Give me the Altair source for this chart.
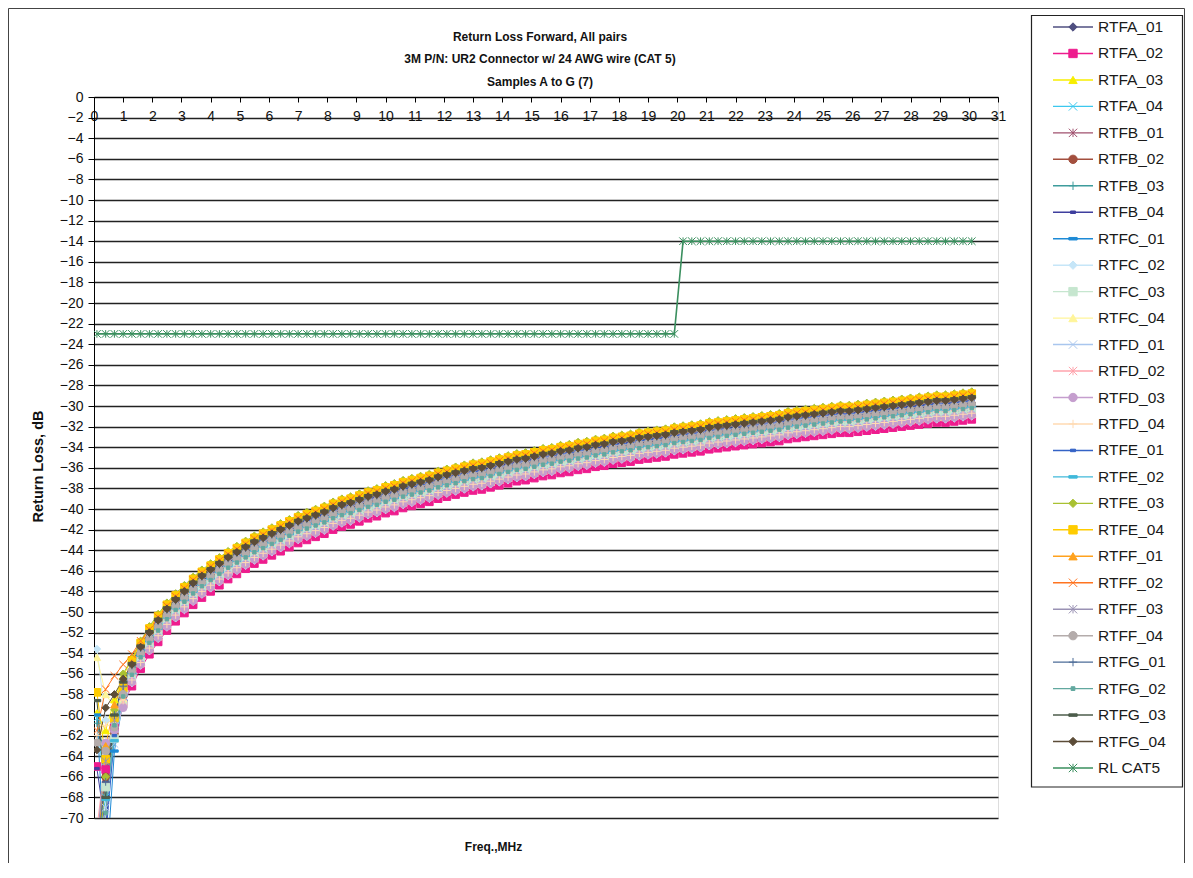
import altair as alt
import pandas as pd

SANS = "'Liberation Sans', Arial, sans-serif"

TITLE_LINES = ["Return Loss Forward, All pairs",
               "3M P/N: UR2 Connector w/ 24 AWG wire (CAT 5)",
               "Samples A to G (7)"]
X_TITLE = "Freq.,MHz"
Y_TITLE = "Return Loss, dB"
X_TICKS = list(range(0, 32))
Y_TICKS = list(range(-70, 1, 2))

FREQ = [0.1, 0.4, 0.7, 1.0,
        1.3, 1.6, 1.9, 2.2, 2.5, 2.8, 3.1, 3.4, 3.7, 4.0,
        4.3, 4.6, 4.9, 5.2, 5.5, 5.8, 6.1, 6.4, 6.7, 7.0,
        7.3, 7.6, 7.9, 8.2, 8.5, 8.8, 9.1, 9.4, 9.7, 10.0,
        10.3, 10.6, 10.9, 11.2, 11.5, 11.8, 12.1, 12.4, 12.7, 13.0,
        13.3, 13.6, 13.9, 14.2, 14.5, 14.8, 15.1, 15.4, 15.7, 16.0,
        16.3, 16.6, 16.9, 17.2, 17.5, 17.8, 18.1, 18.4, 18.7, 19.0,
        19.3, 19.6, 19.9, 20.2, 20.5, 20.8, 21.1, 21.4, 21.7, 22.0,
        22.3, 22.6, 22.9, 23.2, 23.5, 23.8, 24.1, 24.4, 24.7, 25.0,
        25.3, 25.6, 25.9, 26.2, 26.5, 26.8, 27.1, 27.4, 27.7, 28.0,
        28.3, 28.6, 28.9, 29.2, 29.5, 29.8, 30.1]

RTFA_01 = [-72.0, -66.5, -61.0, -58.0,
    -55.6, -53.9, -52.5, -51.3, -50.2, -49.3, -48.5, -47.7, -47.0, -46.4,
    -45.8, -45.2, -44.7, -44.2, -43.7, -43.3, -42.9, -42.5, -42.1, -41.7,
    -41.4, -41.1, -40.8, -40.4, -40.1, -39.9, -39.6, -39.3, -39.1, -38.8,
    -38.6, -38.3, -38.1, -37.9, -37.7, -37.4, -37.2, -37.0, -36.8, -36.6,
    -36.5, -36.3, -36.1, -35.9, -35.7, -35.6, -35.4, -35.2, -35.1, -34.9,
    -34.8, -34.6, -34.5, -34.3, -34.2, -34.0, -33.9, -33.8, -33.6, -33.5,
    -33.4, -33.3, -33.1, -33.0, -32.9, -32.8, -32.6, -32.5, -32.4, -32.3,
    -32.2, -32.1, -32.0, -31.9, -31.8, -31.6, -31.5, -31.4, -31.3, -31.2,
    -31.1, -31.0, -31.0, -30.9, -30.8, -30.7, -30.6, -30.5, -30.4, -30.3,
    -30.2, -30.1, -30.0, -30.0, -29.9, -29.8, -29.7]
RTFA_02 = [-65.0, -65.3, -61.2, -58.9,
    -57.2, -55.5, -54.1, -52.9, -51.8, -50.9, -50.1, -49.3, -48.6, -48.0,
    -47.4, -46.8, -46.3, -45.8, -45.3, -44.9, -44.5, -44.1, -43.7, -43.3,
    -43.0, -42.7, -42.4, -42.0, -41.7, -41.5, -41.2, -40.9, -40.7, -40.4,
    -40.2, -39.9, -39.7, -39.5, -39.3, -39.0, -38.8, -38.6, -38.4, -38.2,
    -38.1, -37.9, -37.7, -37.5, -37.3, -37.2, -37.0, -36.8, -36.7, -36.5,
    -36.4, -36.2, -36.1, -35.9, -35.8, -35.6, -35.5, -35.4, -35.2, -35.1,
    -35.0, -34.9, -34.7, -34.6, -34.5, -34.4, -34.2, -34.1, -34.0, -33.9,
    -33.8, -33.7, -33.6, -33.5, -33.4, -33.2, -33.1, -33.0, -32.9, -32.8,
    -32.7, -32.6, -32.6, -32.5, -32.4, -32.3, -32.2, -32.1, -32.0, -31.9,
    -31.8, -31.7, -31.6, -31.6, -31.5, -31.4, -31.3]
RTFA_03 = [-59.8, -61.5, -58.5, -56.2,
    -54.6, -52.9, -51.5, -50.3, -49.2, -48.3, -47.5, -46.7, -46.0, -45.4,
    -44.8, -44.2, -43.7, -43.2, -42.7, -42.3, -41.9, -41.5, -41.1, -40.7,
    -40.4, -40.1, -39.8, -39.4, -39.1, -38.9, -38.6, -38.3, -38.1, -37.8,
    -37.6, -37.3, -37.1, -36.9, -36.7, -36.4, -36.2, -36.0, -35.8, -35.6,
    -35.5, -35.3, -35.1, -34.9, -34.7, -34.6, -34.4, -34.2, -34.1, -33.9,
    -33.8, -33.6, -33.5, -33.3, -33.2, -33.0, -32.9, -32.8, -32.6, -32.5,
    -32.4, -32.3, -32.1, -32.0, -31.9, -31.8, -31.6, -31.5, -31.4, -31.3,
    -31.2, -31.1, -31.0, -30.9, -30.8, -30.6, -30.5, -30.4, -30.3, -30.2,
    -30.1, -30.0, -30.0, -29.9, -29.8, -29.7, -29.6, -29.5, -29.4, -29.3,
    -29.2, -29.1, -29.0, -29.0, -28.9, -28.8, -28.7]
RTFA_04 = [-60.3, -68.0, -62.0, -58.3,
    -56.1, -54.4, -53.0, -51.8, -50.7, -49.8, -49.0, -48.2, -47.5, -46.9,
    -46.3, -45.7, -45.2, -44.7, -44.2, -43.8, -43.4, -43.0, -42.6, -42.2,
    -41.9, -41.6, -41.3, -40.9, -40.6, -40.4, -40.1, -39.8, -39.6, -39.3,
    -39.1, -38.8, -38.6, -38.4, -38.2, -37.9, -37.7, -37.5, -37.3, -37.1,
    -37.0, -36.8, -36.6, -36.4, -36.2, -36.1, -35.9, -35.7, -35.6, -35.4,
    -35.3, -35.1, -35.0, -34.8, -34.7, -34.5, -34.4, -34.3, -34.1, -34.0,
    -33.9, -33.8, -33.6, -33.5, -33.4, -33.3, -33.1, -33.0, -32.9, -32.8,
    -32.7, -32.6, -32.5, -32.4, -32.3, -32.1, -32.0, -31.9, -31.8, -31.7,
    -31.6, -31.5, -31.5, -31.4, -31.3, -31.2, -31.1, -31.0, -30.9, -30.8,
    -30.7, -30.6, -30.5, -30.5, -30.4, -30.3, -30.2]
RTFB_01 = [-74.0, -64.5, -61.5, -58.6,
    -56.5, -54.8, -53.4, -52.2, -51.1, -50.2, -49.4, -48.6, -47.9, -47.3,
    -46.7, -46.1, -45.6, -45.1, -44.6, -44.2, -43.8, -43.4, -43.0, -42.6,
    -42.3, -42.0, -41.7, -41.3, -41.0, -40.8, -40.5, -40.2, -40.0, -39.7,
    -39.5, -39.2, -39.0, -38.8, -38.6, -38.3, -38.1, -37.9, -37.7, -37.5,
    -37.4, -37.2, -37.0, -36.8, -36.6, -36.5, -36.3, -36.1, -36.0, -35.8,
    -35.7, -35.5, -35.4, -35.2, -35.1, -34.9, -34.8, -34.7, -34.5, -34.4,
    -34.3, -34.2, -34.0, -33.9, -33.8, -33.7, -33.5, -33.4, -33.3, -33.2,
    -33.1, -33.0, -32.9, -32.8, -32.7, -32.5, -32.4, -32.3, -32.2, -32.1,
    -32.0, -31.9, -31.9, -31.8, -31.7, -31.6, -31.5, -31.4, -31.3, -31.2,
    -31.1, -31.0, -30.9, -30.9, -30.8, -30.7, -30.6]
RTFB_02 = [-72.0, -66.0, -61.8, -58.2,
    -55.8, -54.1, -52.7, -51.5, -50.4, -49.5, -48.7, -47.9, -47.2, -46.6,
    -46.0, -45.4, -44.9, -44.4, -43.9, -43.5, -43.1, -42.7, -42.3, -41.9,
    -41.6, -41.3, -41.0, -40.6, -40.3, -40.1, -39.8, -39.5, -39.3, -39.0,
    -38.8, -38.5, -38.3, -38.1, -37.9, -37.6, -37.4, -37.2, -37.0, -36.8,
    -36.7, -36.5, -36.3, -36.1, -35.9, -35.8, -35.6, -35.4, -35.3, -35.1,
    -35.0, -34.8, -34.7, -34.5, -34.4, -34.2, -34.1, -34.0, -33.8, -33.7,
    -33.6, -33.5, -33.3, -33.2, -33.1, -33.0, -32.8, -32.7, -32.6, -32.5,
    -32.4, -32.3, -32.2, -32.1, -32.0, -31.8, -31.7, -31.6, -31.5, -31.4,
    -31.3, -31.2, -31.2, -31.1, -31.0, -30.9, -30.8, -30.7, -30.6, -30.5,
    -30.4, -30.3, -30.2, -30.2, -30.1, -30.0, -29.9]
RTFB_03 = [-60.8, -64.0, -62.6, -58.8,
    -56.3, -54.6, -53.2, -52.0, -50.9, -50.0, -49.2, -48.4, -47.7, -47.1,
    -46.5, -45.9, -45.4, -44.9, -44.4, -44.0, -43.6, -43.2, -42.8, -42.4,
    -42.1, -41.8, -41.5, -41.1, -40.8, -40.6, -40.3, -40.0, -39.8, -39.5,
    -39.3, -39.0, -38.8, -38.6, -38.4, -38.1, -37.9, -37.7, -37.5, -37.3,
    -37.2, -37.0, -36.8, -36.6, -36.4, -36.3, -36.1, -35.9, -35.8, -35.6,
    -35.5, -35.3, -35.2, -35.0, -34.9, -34.7, -34.6, -34.5, -34.3, -34.2,
    -34.1, -34.0, -33.8, -33.7, -33.6, -33.5, -33.3, -33.2, -33.1, -33.0,
    -32.9, -32.8, -32.7, -32.6, -32.5, -32.3, -32.2, -32.1, -32.0, -31.9,
    -31.8, -31.7, -31.7, -31.6, -31.5, -31.4, -31.3, -31.2, -31.1, -31.0,
    -30.9, -30.8, -30.7, -30.7, -30.6, -30.5, -30.4]
RTFB_04 = [-65.2, -71.0, -61.5, -57.8,
    -55.3, -53.6, -52.2, -51.0, -49.9, -49.0, -48.2, -47.4, -46.7, -46.1,
    -45.5, -44.9, -44.4, -43.9, -43.4, -43.0, -42.6, -42.2, -41.8, -41.4,
    -41.1, -40.8, -40.5, -40.1, -39.8, -39.6, -39.3, -39.0, -38.8, -38.5,
    -38.3, -38.0, -37.8, -37.6, -37.4, -37.1, -36.9, -36.7, -36.5, -36.3,
    -36.2, -36.0, -35.8, -35.6, -35.4, -35.3, -35.1, -34.9, -34.8, -34.6,
    -34.5, -34.3, -34.2, -34.0, -33.9, -33.7, -33.6, -33.5, -33.3, -33.2,
    -33.1, -33.0, -32.8, -32.7, -32.6, -32.5, -32.3, -32.2, -32.1, -32.0,
    -31.9, -31.8, -31.7, -31.6, -31.5, -31.3, -31.2, -31.1, -31.0, -30.9,
    -30.8, -30.7, -30.7, -30.6, -30.5, -30.4, -30.3, -30.2, -30.1, -30.0,
    -29.9, -29.8, -29.7, -29.7, -29.6, -29.5, -29.4]
RTFC_01 = [-60.0, -76.0, -63.5, -58.6,
    -56.0, -54.3, -52.9, -51.7, -50.6, -49.7, -48.9, -48.1, -47.4, -46.8,
    -46.2, -45.6, -45.1, -44.6, -44.1, -43.7, -43.3, -42.9, -42.5, -42.1,
    -41.8, -41.5, -41.2, -40.8, -40.5, -40.3, -40.0, -39.7, -39.5, -39.2,
    -39.0, -38.7, -38.5, -38.3, -38.1, -37.8, -37.6, -37.4, -37.2, -37.0,
    -36.9, -36.7, -36.5, -36.3, -36.1, -36.0, -35.8, -35.6, -35.5, -35.3,
    -35.2, -35.0, -34.9, -34.7, -34.6, -34.4, -34.3, -34.2, -34.0, -33.9,
    -33.8, -33.7, -33.5, -33.4, -33.3, -33.2, -33.0, -32.9, -32.8, -32.7,
    -32.6, -32.5, -32.4, -32.3, -32.2, -32.0, -31.9, -31.8, -31.7, -31.6,
    -31.5, -31.4, -31.4, -31.3, -31.2, -31.1, -31.0, -30.9, -30.8, -30.7,
    -30.6, -30.5, -30.4, -30.4, -30.3, -30.2, -30.1]
RTFC_02 = [-53.6, -60.5, -60.8, -58.9,
    -56.9, -55.2, -53.8, -52.6, -51.5, -50.6, -49.8, -49.0, -48.3, -47.7,
    -47.1, -46.5, -46.0, -45.5, -45.0, -44.6, -44.2, -43.8, -43.4, -43.0,
    -42.7, -42.4, -42.1, -41.7, -41.4, -41.2, -40.9, -40.6, -40.4, -40.1,
    -39.9, -39.6, -39.4, -39.2, -39.0, -38.7, -38.5, -38.3, -38.1, -37.9,
    -37.8, -37.6, -37.4, -37.2, -37.0, -36.9, -36.7, -36.5, -36.4, -36.2,
    -36.1, -35.9, -35.8, -35.6, -35.5, -35.3, -35.2, -35.1, -34.9, -34.8,
    -34.7, -34.6, -34.4, -34.3, -34.2, -34.1, -33.9, -33.8, -33.7, -33.6,
    -33.5, -33.4, -33.3, -33.2, -33.1, -32.9, -32.8, -32.7, -32.6, -32.5,
    -32.4, -32.3, -32.3, -32.2, -32.1, -32.0, -31.9, -31.8, -31.7, -31.6,
    -31.5, -31.4, -31.3, -31.3, -31.2, -31.1, -31.0]
RTFC_03 = [-73.0, -67.0, -62.3, -59.0,
    -56.4, -54.7, -53.3, -52.1, -51.0, -50.1, -49.3, -48.5, -47.8, -47.2,
    -46.6, -46.0, -45.5, -45.0, -44.5, -44.1, -43.7, -43.3, -42.9, -42.5,
    -42.2, -41.9, -41.6, -41.2, -40.9, -40.7, -40.4, -40.1, -39.9, -39.6,
    -39.4, -39.1, -38.9, -38.7, -38.5, -38.2, -38.0, -37.8, -37.6, -37.4,
    -37.3, -37.1, -36.9, -36.7, -36.5, -36.4, -36.2, -36.0, -35.9, -35.7,
    -35.6, -35.4, -35.3, -35.1, -35.0, -34.8, -34.7, -34.6, -34.4, -34.3,
    -34.2, -34.1, -33.9, -33.8, -33.7, -33.6, -33.4, -33.3, -33.2, -33.1,
    -33.0, -32.9, -32.8, -32.7, -32.6, -32.4, -32.3, -32.2, -32.1, -32.0,
    -31.9, -31.8, -31.8, -31.7, -31.6, -31.5, -31.4, -31.3, -31.2, -31.1,
    -31.0, -30.9, -30.8, -30.8, -30.7, -30.6, -30.5]
RTFC_04 = [-54.4, -58.0, -59.2, -58.4,
    -56.7, -55.0, -53.6, -52.4, -51.3, -50.4, -49.6, -48.8, -48.1, -47.5,
    -46.9, -46.3, -45.8, -45.3, -44.8, -44.4, -44.0, -43.6, -43.2, -42.8,
    -42.5, -42.2, -41.9, -41.5, -41.2, -41.0, -40.7, -40.4, -40.2, -39.9,
    -39.7, -39.4, -39.2, -39.0, -38.8, -38.5, -38.3, -38.1, -37.9, -37.7,
    -37.6, -37.4, -37.2, -37.0, -36.8, -36.7, -36.5, -36.3, -36.2, -36.0,
    -35.9, -35.7, -35.6, -35.4, -35.3, -35.1, -35.0, -34.9, -34.7, -34.6,
    -34.5, -34.4, -34.2, -34.1, -34.0, -33.9, -33.7, -33.6, -33.5, -33.4,
    -33.3, -33.2, -33.1, -33.0, -32.9, -32.7, -32.6, -32.5, -32.4, -32.3,
    -32.2, -32.1, -32.1, -32.0, -31.9, -31.8, -31.7, -31.6, -31.5, -31.4,
    -31.3, -31.2, -31.1, -31.1, -31.0, -30.9, -30.8]
RTFD_01 = [-75.0, -69.0, -62.8, -58.8,
    -56.2, -54.5, -53.1, -51.9, -50.8, -49.9, -49.1, -48.3, -47.6, -47.0,
    -46.4, -45.8, -45.3, -44.8, -44.3, -43.9, -43.5, -43.1, -42.7, -42.3,
    -42.0, -41.7, -41.4, -41.0, -40.7, -40.5, -40.2, -39.9, -39.7, -39.4,
    -39.2, -38.9, -38.7, -38.5, -38.3, -38.0, -37.8, -37.6, -37.4, -37.2,
    -37.1, -36.9, -36.7, -36.5, -36.3, -36.2, -36.0, -35.8, -35.7, -35.5,
    -35.4, -35.2, -35.1, -34.9, -34.8, -34.6, -34.5, -34.4, -34.2, -34.1,
    -34.0, -33.9, -33.7, -33.6, -33.5, -33.4, -33.2, -33.1, -33.0, -32.9,
    -32.8, -32.7, -32.6, -32.5, -32.4, -32.2, -32.1, -32.0, -31.9, -31.8,
    -31.7, -31.6, -31.6, -31.5, -31.4, -31.3, -31.2, -31.1, -31.0, -30.9,
    -30.8, -30.7, -30.6, -30.6, -30.5, -30.4, -30.3]
RTFD_02 = [-71.0, -64.0, -61.0, -58.7,
    -56.4, -54.7, -53.3, -52.1, -51.0, -50.1, -49.3, -48.5, -47.8, -47.2,
    -46.6, -46.0, -45.5, -45.0, -44.5, -44.1, -43.7, -43.3, -42.9, -42.5,
    -42.2, -41.9, -41.6, -41.2, -40.9, -40.7, -40.4, -40.1, -39.9, -39.6,
    -39.4, -39.1, -38.9, -38.7, -38.5, -38.2, -38.0, -37.8, -37.6, -37.4,
    -37.3, -37.1, -36.9, -36.7, -36.5, -36.4, -36.2, -36.0, -35.9, -35.7,
    -35.6, -35.4, -35.3, -35.1, -35.0, -34.8, -34.7, -34.6, -34.4, -34.3,
    -34.2, -34.1, -33.9, -33.8, -33.7, -33.6, -33.4, -33.3, -33.2, -33.1,
    -33.0, -32.9, -32.8, -32.7, -32.6, -32.4, -32.3, -32.2, -32.1, -32.0,
    -31.9, -31.8, -31.8, -31.7, -31.6, -31.5, -31.4, -31.3, -31.2, -31.1,
    -31.0, -30.9, -30.8, -30.8, -30.7, -30.6, -30.5]
RTFD_03 = [-73.0, -62.7, -61.5, -59.3,
    -56.8, -55.1, -53.7, -52.5, -51.4, -50.5, -49.7, -48.9, -48.2, -47.6,
    -47.0, -46.4, -45.9, -45.4, -44.9, -44.5, -44.1, -43.7, -43.3, -42.9,
    -42.6, -42.3, -42.0, -41.6, -41.3, -41.1, -40.8, -40.5, -40.3, -40.0,
    -39.8, -39.5, -39.3, -39.1, -38.9, -38.6, -38.4, -38.2, -38.0, -37.8,
    -37.7, -37.5, -37.3, -37.1, -36.9, -36.8, -36.6, -36.4, -36.3, -36.1,
    -36.0, -35.8, -35.7, -35.5, -35.4, -35.2, -35.1, -35.0, -34.8, -34.7,
    -34.6, -34.5, -34.3, -34.2, -34.1, -34.0, -33.8, -33.7, -33.6, -33.5,
    -33.4, -33.3, -33.2, -33.1, -33.0, -32.8, -32.7, -32.6, -32.5, -32.4,
    -32.3, -32.2, -32.2, -32.1, -32.0, -31.9, -31.8, -31.7, -31.6, -31.5,
    -31.4, -31.3, -31.2, -31.2, -31.1, -31.0, -30.9]
RTFD_04 = [-62.0, -61.0, -60.2, -58.6,
    -56.6, -54.9, -53.5, -52.3, -51.2, -50.3, -49.5, -48.7, -48.0, -47.4,
    -46.8, -46.2, -45.7, -45.2, -44.7, -44.3, -43.9, -43.5, -43.1, -42.7,
    -42.4, -42.1, -41.8, -41.4, -41.1, -40.9, -40.6, -40.3, -40.1, -39.8,
    -39.6, -39.3, -39.1, -38.9, -38.7, -38.4, -38.2, -38.0, -37.8, -37.6,
    -37.5, -37.3, -37.1, -36.9, -36.7, -36.6, -36.4, -36.2, -36.1, -35.9,
    -35.8, -35.6, -35.5, -35.3, -35.2, -35.0, -34.9, -34.8, -34.6, -34.5,
    -34.4, -34.3, -34.1, -34.0, -33.9, -33.8, -33.6, -33.5, -33.4, -33.3,
    -33.2, -33.1, -33.0, -32.9, -32.8, -32.6, -32.5, -32.4, -32.3, -32.2,
    -32.1, -32.0, -32.0, -31.9, -31.8, -31.7, -31.6, -31.5, -31.4, -31.3,
    -31.2, -31.1, -31.0, -31.0, -30.9, -30.8, -30.7]
RTFE_01 = [-74.0, -72.0, -62.0, -57.9,
    -55.4, -53.7, -52.3, -51.1, -50.0, -49.1, -48.3, -47.5, -46.8, -46.2,
    -45.6, -45.0, -44.5, -44.0, -43.5, -43.1, -42.7, -42.3, -41.9, -41.5,
    -41.2, -40.9, -40.6, -40.2, -39.9, -39.7, -39.4, -39.1, -38.9, -38.6,
    -38.4, -38.1, -37.9, -37.7, -37.5, -37.2, -37.0, -36.8, -36.6, -36.4,
    -36.3, -36.1, -35.9, -35.7, -35.5, -35.4, -35.2, -35.0, -34.9, -34.7,
    -34.6, -34.4, -34.3, -34.1, -34.0, -33.8, -33.7, -33.6, -33.4, -33.3,
    -33.2, -33.1, -32.9, -32.8, -32.7, -32.6, -32.4, -32.3, -32.2, -32.1,
    -32.0, -31.9, -31.8, -31.7, -31.6, -31.4, -31.3, -31.2, -31.1, -31.0,
    -30.9, -30.8, -30.8, -30.7, -30.6, -30.5, -30.4, -30.3, -30.2, -30.1,
    -30.0, -29.9, -29.8, -29.8, -29.7, -29.6, -29.5]
RTFE_02 = [-72.0, -68.2, -62.5, -58.1,
    -55.9, -54.2, -52.8, -51.6, -50.5, -49.6, -48.8, -48.0, -47.3, -46.7,
    -46.1, -45.5, -45.0, -44.5, -44.0, -43.6, -43.2, -42.8, -42.4, -42.0,
    -41.7, -41.4, -41.1, -40.7, -40.4, -40.2, -39.9, -39.6, -39.4, -39.1,
    -38.9, -38.6, -38.4, -38.2, -38.0, -37.7, -37.5, -37.3, -37.1, -36.9,
    -36.8, -36.6, -36.4, -36.2, -36.0, -35.9, -35.7, -35.5, -35.4, -35.2,
    -35.1, -34.9, -34.8, -34.6, -34.5, -34.3, -34.2, -34.1, -33.9, -33.8,
    -33.7, -33.6, -33.4, -33.3, -33.2, -33.1, -32.9, -32.8, -32.7, -32.6,
    -32.5, -32.4, -32.3, -32.2, -32.1, -31.9, -31.8, -31.7, -31.6, -31.5,
    -31.4, -31.3, -31.3, -31.2, -31.1, -31.0, -30.9, -30.8, -30.7, -30.6,
    -30.5, -30.4, -30.3, -30.3, -30.2, -30.1, -30.0]
RTFE_03 = [-76.0, -66.0, -59.5, -56.0,
    -54.5, -52.8, -51.4, -50.2, -49.1, -48.2, -47.4, -46.6, -45.9, -45.3,
    -44.7, -44.1, -43.6, -43.1, -42.6, -42.2, -41.8, -41.4, -41.0, -40.6,
    -40.3, -40.0, -39.7, -39.3, -39.0, -38.8, -38.5, -38.2, -38.0, -37.7,
    -37.5, -37.2, -37.0, -36.8, -36.6, -36.3, -36.1, -35.9, -35.7, -35.5,
    -35.4, -35.2, -35.0, -34.8, -34.6, -34.5, -34.3, -34.1, -34.0, -33.8,
    -33.7, -33.5, -33.4, -33.2, -33.1, -32.9, -32.8, -32.7, -32.5, -32.4,
    -32.3, -32.2, -32.0, -31.9, -31.8, -31.7, -31.5, -31.4, -31.3, -31.2,
    -31.1, -31.0, -30.9, -30.8, -30.7, -30.5, -30.4, -30.3, -30.2, -30.1,
    -30.0, -29.9, -29.9, -29.8, -29.7, -29.6, -29.5, -29.4, -29.3, -29.2,
    -29.1, -29.0, -28.9, -28.9, -28.8, -28.7, -28.6]
RTFE_04 = [-57.8, -64.3, -60.3, -57.4,
    -54.7, -53.0, -51.6, -50.4, -49.3, -48.4, -47.6, -46.8, -46.1, -45.5,
    -44.9, -44.3, -43.8, -43.3, -42.8, -42.4, -42.0, -41.6, -41.2, -40.8,
    -40.5, -40.2, -39.9, -39.5, -39.2, -39.0, -38.7, -38.4, -38.2, -37.9,
    -37.7, -37.4, -37.2, -37.0, -36.8, -36.5, -36.3, -36.1, -35.9, -35.7,
    -35.6, -35.4, -35.2, -35.0, -34.8, -34.7, -34.5, -34.3, -34.2, -34.0,
    -33.9, -33.7, -33.6, -33.4, -33.3, -33.1, -33.0, -32.9, -32.7, -32.6,
    -32.5, -32.4, -32.2, -32.1, -32.0, -31.9, -31.7, -31.6, -31.5, -31.4,
    -31.3, -31.2, -31.1, -31.0, -30.9, -30.7, -30.6, -30.5, -30.4, -30.3,
    -30.2, -30.1, -30.1, -30.0, -29.9, -29.8, -29.7, -29.6, -29.5, -29.4,
    -29.3, -29.2, -29.1, -29.1, -29.0, -28.9, -28.8]
RTFF_01 = [-74.0, -63.0, -59.0, -56.6,
    -54.9, -53.2, -51.8, -50.6, -49.5, -48.6, -47.8, -47.0, -46.3, -45.7,
    -45.1, -44.5, -44.0, -43.5, -43.0, -42.6, -42.2, -41.8, -41.4, -41.0,
    -40.7, -40.4, -40.1, -39.7, -39.4, -39.2, -38.9, -38.6, -38.4, -38.1,
    -37.9, -37.6, -37.4, -37.2, -37.0, -36.7, -36.5, -36.3, -36.1, -35.9,
    -35.8, -35.6, -35.4, -35.2, -35.0, -34.9, -34.7, -34.5, -34.4, -34.2,
    -34.1, -33.9, -33.8, -33.6, -33.5, -33.3, -33.2, -33.1, -32.9, -32.8,
    -32.7, -32.6, -32.4, -32.3, -32.2, -32.1, -31.9, -31.8, -31.7, -31.6,
    -31.5, -31.4, -31.3, -31.2, -31.1, -30.9, -30.8, -30.7, -30.6, -30.5,
    -30.4, -30.3, -30.3, -30.2, -30.1, -30.0, -29.9, -29.8, -29.7, -29.6,
    -29.5, -29.4, -29.3, -29.3, -29.2, -29.1, -29.0]
RTFF_02 = [-61.5, -57.5, -56.2, -55.1,
    -54.1, -52.8, -51.7, -50.5, -49.4, -48.5, -47.7, -46.9, -46.2, -45.6,
    -45.0, -44.4, -43.9, -43.4, -42.9, -42.5, -42.1, -41.7, -41.3, -40.9,
    -40.6, -40.3, -40.0, -39.6, -39.3, -39.1, -38.8, -38.5, -38.3, -38.0,
    -37.8, -37.5, -37.3, -37.1, -36.9, -36.6, -36.4, -36.2, -36.0, -35.8,
    -35.7, -35.5, -35.3, -35.1, -34.9, -34.8, -34.6, -34.4, -34.3, -34.1,
    -34.0, -33.8, -33.7, -33.5, -33.4, -33.2, -33.1, -33.0, -32.8, -32.7,
    -32.6, -32.5, -32.3, -32.2, -32.1, -32.0, -31.8, -31.7, -31.6, -31.5,
    -31.4, -31.3, -31.2, -31.1, -31.0, -30.8, -30.7, -30.6, -30.5, -30.4,
    -30.3, -30.2, -30.2, -30.1, -30.0, -29.9, -29.8, -29.7, -29.6, -29.5,
    -29.4, -29.3, -29.2, -29.2, -29.1, -29.0, -28.9]
RTFF_03 = [-72.0, -64.5, -60.5, -57.5,
    -55.5, -53.8, -52.4, -51.2, -50.1, -49.2, -48.4, -47.6, -46.9, -46.3,
    -45.7, -45.1, -44.6, -44.1, -43.6, -43.2, -42.8, -42.4, -42.0, -41.6,
    -41.3, -41.0, -40.7, -40.3, -40.0, -39.8, -39.5, -39.2, -39.0, -38.7,
    -38.5, -38.2, -38.0, -37.8, -37.6, -37.3, -37.1, -36.9, -36.7, -36.5,
    -36.4, -36.2, -36.0, -35.8, -35.6, -35.5, -35.3, -35.1, -35.0, -34.8,
    -34.7, -34.5, -34.4, -34.2, -34.1, -33.9, -33.8, -33.7, -33.5, -33.4,
    -33.3, -33.2, -33.0, -32.9, -32.8, -32.7, -32.5, -32.4, -32.3, -32.2,
    -32.1, -32.0, -31.9, -31.8, -31.7, -31.5, -31.4, -31.3, -31.2, -31.1,
    -31.0, -30.9, -30.9, -30.8, -30.7, -30.6, -30.5, -30.4, -30.3, -30.2,
    -30.1, -30.0, -29.9, -29.9, -29.8, -29.7, -29.6]
RTFF_04 = [-62.7, -63.5, -61.2, -58.0,
    -55.7, -54.0, -52.6, -51.4, -50.3, -49.4, -48.6, -47.8, -47.1, -46.5,
    -45.9, -45.3, -44.8, -44.3, -43.8, -43.4, -43.0, -42.6, -42.2, -41.8,
    -41.5, -41.2, -40.9, -40.5, -40.2, -40.0, -39.7, -39.4, -39.2, -38.9,
    -38.7, -38.4, -38.2, -38.0, -37.8, -37.5, -37.3, -37.1, -36.9, -36.7,
    -36.6, -36.4, -36.2, -36.0, -35.8, -35.7, -35.5, -35.3, -35.2, -35.0,
    -34.9, -34.7, -34.6, -34.4, -34.3, -34.1, -34.0, -33.9, -33.7, -33.6,
    -33.5, -33.4, -33.2, -33.1, -33.0, -32.9, -32.7, -32.6, -32.5, -32.4,
    -32.3, -32.2, -32.1, -32.0, -31.9, -31.7, -31.6, -31.5, -31.4, -31.3,
    -31.2, -31.1, -31.1, -31.0, -30.9, -30.8, -30.7, -30.6, -30.5, -30.4,
    -30.3, -30.2, -30.1, -30.1, -30.0, -29.9, -29.8]
RTFG_01 = [-73.0, -66.5, -60.0, -57.2,
    -55.2, -53.5, -52.1, -50.9, -49.8, -48.9, -48.1, -47.3, -46.6, -46.0,
    -45.4, -44.8, -44.3, -43.8, -43.3, -42.9, -42.5, -42.1, -41.7, -41.3,
    -41.0, -40.7, -40.4, -40.0, -39.7, -39.5, -39.2, -38.9, -38.7, -38.4,
    -38.2, -37.9, -37.7, -37.5, -37.3, -37.0, -36.8, -36.6, -36.4, -36.2,
    -36.1, -35.9, -35.7, -35.5, -35.3, -35.2, -35.0, -34.8, -34.7, -34.5,
    -34.4, -34.2, -34.1, -33.9, -33.8, -33.6, -33.5, -33.4, -33.2, -33.1,
    -33.0, -32.9, -32.7, -32.6, -32.5, -32.4, -32.2, -32.1, -32.0, -31.9,
    -31.8, -31.7, -31.6, -31.5, -31.4, -31.2, -31.1, -31.0, -30.9, -30.8,
    -30.7, -30.6, -30.6, -30.5, -30.4, -30.3, -30.2, -30.1, -30.0, -29.9,
    -29.8, -29.7, -29.6, -29.6, -29.5, -29.4, -29.3]
RTFG_02 = [-74.0, -69.5, -61.0, -58.2,
    -56.1, -54.4, -53.0, -51.8, -50.7, -49.8, -49.0, -48.2, -47.5, -46.9,
    -46.3, -45.7, -45.2, -44.7, -44.2, -43.8, -43.4, -43.0, -42.6, -42.2,
    -41.9, -41.6, -41.3, -40.9, -40.6, -40.4, -40.1, -39.8, -39.6, -39.3,
    -39.1, -38.8, -38.6, -38.4, -38.2, -37.9, -37.7, -37.5, -37.3, -37.1,
    -37.0, -36.8, -36.6, -36.4, -36.2, -36.1, -35.9, -35.7, -35.6, -35.4,
    -35.3, -35.1, -35.0, -34.8, -34.7, -34.5, -34.4, -34.3, -34.1, -34.0,
    -33.9, -33.8, -33.6, -33.5, -33.4, -33.3, -33.1, -33.0, -32.9, -32.8,
    -32.7, -32.6, -32.5, -32.4, -32.3, -32.1, -32.0, -31.9, -31.8, -31.7,
    -31.6, -31.5, -31.5, -31.4, -31.3, -31.2, -31.1, -31.0, -30.9, -30.8,
    -30.7, -30.6, -30.5, -30.5, -30.4, -30.3, -30.2]
RTFG_03 = [-58.6, -68.0, -60.0, -56.8,
    -55.0, -53.3, -51.9, -50.7, -49.6, -48.7, -47.9, -47.1, -46.4, -45.8,
    -45.2, -44.6, -44.1, -43.6, -43.1, -42.7, -42.3, -41.9, -41.5, -41.1,
    -40.8, -40.5, -40.2, -39.8, -39.5, -39.3, -39.0, -38.7, -38.5, -38.2,
    -38.0, -37.7, -37.5, -37.3, -37.1, -36.8, -36.6, -36.4, -36.2, -36.0,
    -35.9, -35.7, -35.5, -35.3, -35.1, -35.0, -34.8, -34.6, -34.5, -34.3,
    -34.2, -34.0, -33.9, -33.7, -33.6, -33.4, -33.3, -33.2, -33.0, -32.9,
    -32.8, -32.7, -32.5, -32.4, -32.3, -32.2, -32.0, -31.9, -31.8, -31.7,
    -31.6, -31.5, -31.4, -31.3, -31.2, -31.0, -30.9, -30.8, -30.7, -30.6,
    -30.5, -30.4, -30.4, -30.3, -30.2, -30.1, -30.0, -29.9, -29.8, -29.7,
    -29.6, -29.5, -29.4, -29.4, -29.3, -29.2, -29.1]
RTFG_04 = [-63.4, -59.3, -58.0, -56.5,
    -55.1, -53.4, -52.0, -50.8, -49.7, -48.8, -48.0, -47.2, -46.5, -45.9,
    -45.3, -44.7, -44.2, -43.7, -43.2, -42.8, -42.4, -42.0, -41.6, -41.2,
    -40.9, -40.6, -40.3, -39.9, -39.6, -39.4, -39.1, -38.8, -38.6, -38.3,
    -38.1, -37.8, -37.6, -37.4, -37.2, -36.9, -36.7, -36.5, -36.3, -36.1,
    -36.0, -35.8, -35.6, -35.4, -35.2, -35.1, -34.9, -34.7, -34.6, -34.4,
    -34.3, -34.1, -34.0, -33.8, -33.7, -33.5, -33.4, -33.3, -33.1, -33.0,
    -32.9, -32.8, -32.6, -32.5, -32.4, -32.3, -32.1, -32.0, -31.9, -31.8,
    -31.7, -31.6, -31.5, -31.4, -31.3, -31.1, -31.0, -30.9, -30.8, -30.7,
    -30.6, -30.5, -30.5, -30.4, -30.3, -30.2, -30.1, -30.0, -29.9, -29.8,
    -29.7, -29.6, -29.5, -29.5, -29.4, -29.3, -29.2]
RL_CAT5 = [-23.0] * 67 + [-14.0] * 34

NAMES = ["RTFA_01", "RTFA_02", "RTFA_03", "RTFA_04",
         "RTFB_01", "RTFB_02", "RTFB_03", "RTFB_04",
         "RTFC_01", "RTFC_02", "RTFC_03", "RTFC_04",
         "RTFD_01", "RTFD_02", "RTFD_03", "RTFD_04",
         "RTFE_01", "RTFE_02", "RTFE_03", "RTFE_04",
         "RTFF_01", "RTFF_02", "RTFF_03", "RTFF_04",
         "RTFG_01", "RTFG_02", "RTFG_03", "RTFG_04", "RL CAT5"]
SERIES = {
    "RTFA_01": RTFA_01, "RTFA_02": RTFA_02, "RTFA_03": RTFA_03, "RTFA_04": RTFA_04,
    "RTFB_01": RTFB_01, "RTFB_02": RTFB_02, "RTFB_03": RTFB_03, "RTFB_04": RTFB_04,
    "RTFC_01": RTFC_01, "RTFC_02": RTFC_02, "RTFC_03": RTFC_03, "RTFC_04": RTFC_04,
    "RTFD_01": RTFD_01, "RTFD_02": RTFD_02, "RTFD_03": RTFD_03, "RTFD_04": RTFD_04,
    "RTFE_01": RTFE_01, "RTFE_02": RTFE_02, "RTFE_03": RTFE_03, "RTFE_04": RTFE_04,
    "RTFF_01": RTFF_01, "RTFF_02": RTFF_02, "RTFF_03": RTFF_03, "RTFF_04": RTFF_04,
    "RTFG_01": RTFG_01, "RTFG_02": RTFG_02, "RTFG_03": RTFG_03, "RTFG_04": RTFG_04,
    "RL CAT5": RL_CAT5,
}
COLORS = ["#4F4F80", "#EE1C8E", "#F7EE00", "#3CC8EE",
          "#A0506E", "#A34F3E", "#3E9C9C", "#3F3F9E",
          "#1D8AD6", "#C6E6F8", "#C6E6CF", "#FFF59A",
          "#A9C6EE", "#FFA3AC", "#C59ECE", "#FFDAB2",
          "#3463C6", "#41B9DA", "#A9C132", "#FFCC00",
          "#FFA21E", "#FF7420", "#9A92B4", "#B4ACAB",
          "#4D6C98", "#62A89F", "#4C5C4B", "#5C4C38", "#3A8F5E"]

DIAMOND = "diamond"
SQUARE = "square"
TRI = "triangle-up"
XMARK = "M-1,-1L1,1M-1,1L1,-1"
STAR = "M-1,-1L1,1M-1,1L1,-1M0,-1L0,1"
CIRCLE = "circle"
PLUS = "M0,-1L0,1M-1,0L1,0"
SDASH = "M-0.6,-0.3L0.6,-0.3L0.6,0.3L-0.6,0.3Z"
LDASH = "M-1,-0.3L1,-0.3L1,0.3L-1,0.3Z"
SMALLSQ = "M-0.45,-0.45L0.45,-0.45L0.45,0.45L-0.45,0.45Z"
SHAPES = [DIAMOND, SQUARE, TRI, XMARK,
          STAR, CIRCLE, PLUS, SDASH,
          LDASH, DIAMOND, SQUARE, TRI,
          XMARK, STAR, CIRCLE, PLUS,
          SDASH, LDASH, DIAMOND, SQUARE,
          TRI, XMARK, STAR, CIRCLE,
          PLUS, SMALLSQ, LDASH, DIAMOND, STAR]

bad = [n for n in NAMES if len(SERIES[n]) != len(FREQ)]
assert len(FREQ) == 101 and not bad, (len(FREQ), bad, [len(SERIES[n]) for n in bad])

W, H = 904, 721

rows = []
for i, name in enumerate(NAMES):
    for f, v in zip(FREQ, SERIES[name]):
        rows.append({"series": name, "f": f, "rl": v, "idx": i,
                     "lw": 1.6 if name == "RL CAT5" else 1.0})
df = pd.DataFrame(rows)

color_scale = alt.Scale(domain=NAMES, range=COLORS)
shape_scale = alt.Scale(domain=NAMES, range=SHAPES)

x_enc = alt.X("f:Q", scale=alt.Scale(domain=[0, 31], nice=False, zero=False),
              axis=alt.Axis(orient="bottom", offset=-H, values=X_TICKS, format="d",
                            tickSize=5, tickColor="#000", domainColor="#000",
                            labelPadding=7, labelFont=SANS, labelFontSize=14,
                            labelColor="#111", labelFlush=False, labelOverlap=False,
                            grid=False, title=X_TITLE, titleFont=SANS,
                            titleFontSize=12, titleFontWeight="bold", titleColor="#111",
                            titleX=399, titleY=749, titleAlign="center",
                            titleBaseline="middle"))
y_enc = alt.Y("rl:Q", scale=alt.Scale(domain=[-70, 0], nice=False, zero=False),
              axis=alt.Axis(values=Y_TICKS, format="d", tickSize=6, tickColor="#000",
                            domainColor="#000", labelPadding=5, labelFont=SANS,
                            labelFontSize=14, labelColor="#111", labelFlush=False,
                            labelOverlap=False, grid=True, gridColor="#222",
                            gridWidth=1.4, title=Y_TITLE, titleFont=SANS,
                            titleFontSize=14.5, titleFontWeight="bold",
                            titleColor="#111", titleX=-56, titleY=369,
                            titleAlign="center", titleBaseline="middle"))

lines = alt.Chart(df).mark_line(clip=True).encode(
    x=x_enc, y=y_enc,
    color=alt.Color("series:N", scale=color_scale, legend=None),
    strokeWidth=alt.StrokeWidth("lw:Q", scale=None),
)
points = alt.Chart(df).mark_point(filled=True, size=58, opacity=1, strokeWidth=1,
                                  clip=True).encode(
    x=x_enc, y=y_enc,
    shape=alt.Shape("series:N", scale=shape_scale, legend=None),
    fill=alt.Fill("series:N", scale=color_scale, legend=None),
    stroke=alt.Stroke("series:N", scale=color_scale, legend=None),
    order=alt.Order("idx:Q"),
)
main = alt.layer(lines, points)

leg_df = pd.DataFrame({"series": NAMES, "a": 0.0, "b": 1.0, "m": 0.5})
lx = alt.Scale(domain=[0, 1], range=[959, 999])
ly = alt.Scale(type="point", domain=NAMES, range=[-70, 671], padding=0)
ly_enc = alt.Y("series:N", scale=ly, axis=None)

leg_rule = alt.Chart(leg_df).mark_rule(strokeWidth=1.4).encode(
    x=alt.X("a:Q", scale=lx, axis=None), x2="b:Q", y=ly_enc,
    color=alt.Color("series:N", scale=color_scale, legend=None))
leg_pts = alt.Chart(leg_df).mark_point(filled=True, size=70, opacity=1,
                                       strokeWidth=1).encode(
    x=alt.X("m:Q", scale=lx, axis=None), y=ly_enc,
    shape=alt.Shape("series:N", scale=shape_scale, legend=None),
    fill=alt.Fill("series:N", scale=color_scale, legend=None),
    stroke=alt.Stroke("series:N", scale=color_scale, legend=None))
leg_txt = alt.Chart(leg_df).mark_text(align="left", baseline="middle", dx=5,
                                      font=SANS, fontSize=15.5,
                                      color="#1a1a1a").encode(
    x=alt.X("b:Q", scale=lx, axis=None), y=ly_enc, text="series:N")

one = pd.DataFrame({"k": [0]})
leg_box = alt.Chart(one).mark_rect(fillOpacity=0, stroke="#222",
                                   strokeWidth=1.2).encode(
    x=alt.value(937.5), x2=alt.value(1088.5), y=alt.value(-81.5), y2=alt.value(690))
frame_l = alt.Chart(one).mark_rule(color="#444", strokeWidth=1).encode(
    x=alt.value(-85.5), y=alt.value(-88.5), y2=alt.value(770))
frame_t = alt.Chart(one).mark_rule(color="#444", strokeWidth=1).encode(
    x=alt.value(-85.5), x2=alt.value(1090.5), y=alt.value(-88.5))
frame_r = alt.Chart(one).mark_rule(color="#444", strokeWidth=1).encode(
    x=alt.value(1090.5), y=alt.value(-88.5), y2=alt.value(770))

legend = alt.layer(leg_rule, leg_pts, leg_txt, leg_box, frame_l, frame_t, frame_r)

chart = alt.layer(main, legend).resolve_scale(
    x="independent", y="independent"
).properties(
    width=W, height=H,
    title=alt.TitleParams(text=TITLE_LINES, anchor="middle", frame="group",
                          offset=-80.5, dx=-6, font=SANS, fontSize=12,
                          fontWeight="bold", lineHeight=22.5, color="#111"),
    autosize=alt.AutoSizeParams(type="none"),
    padding={"left": 86, "top": 89, "right": 187, "bottom": 45},
).configure_view(
    fill="#DCD5D3", stroke="#A0A0A0", strokeWidth=1
).configure(background="white")

chart.save("out.html", embed_options={"renderer": "svg", "actions": False})
